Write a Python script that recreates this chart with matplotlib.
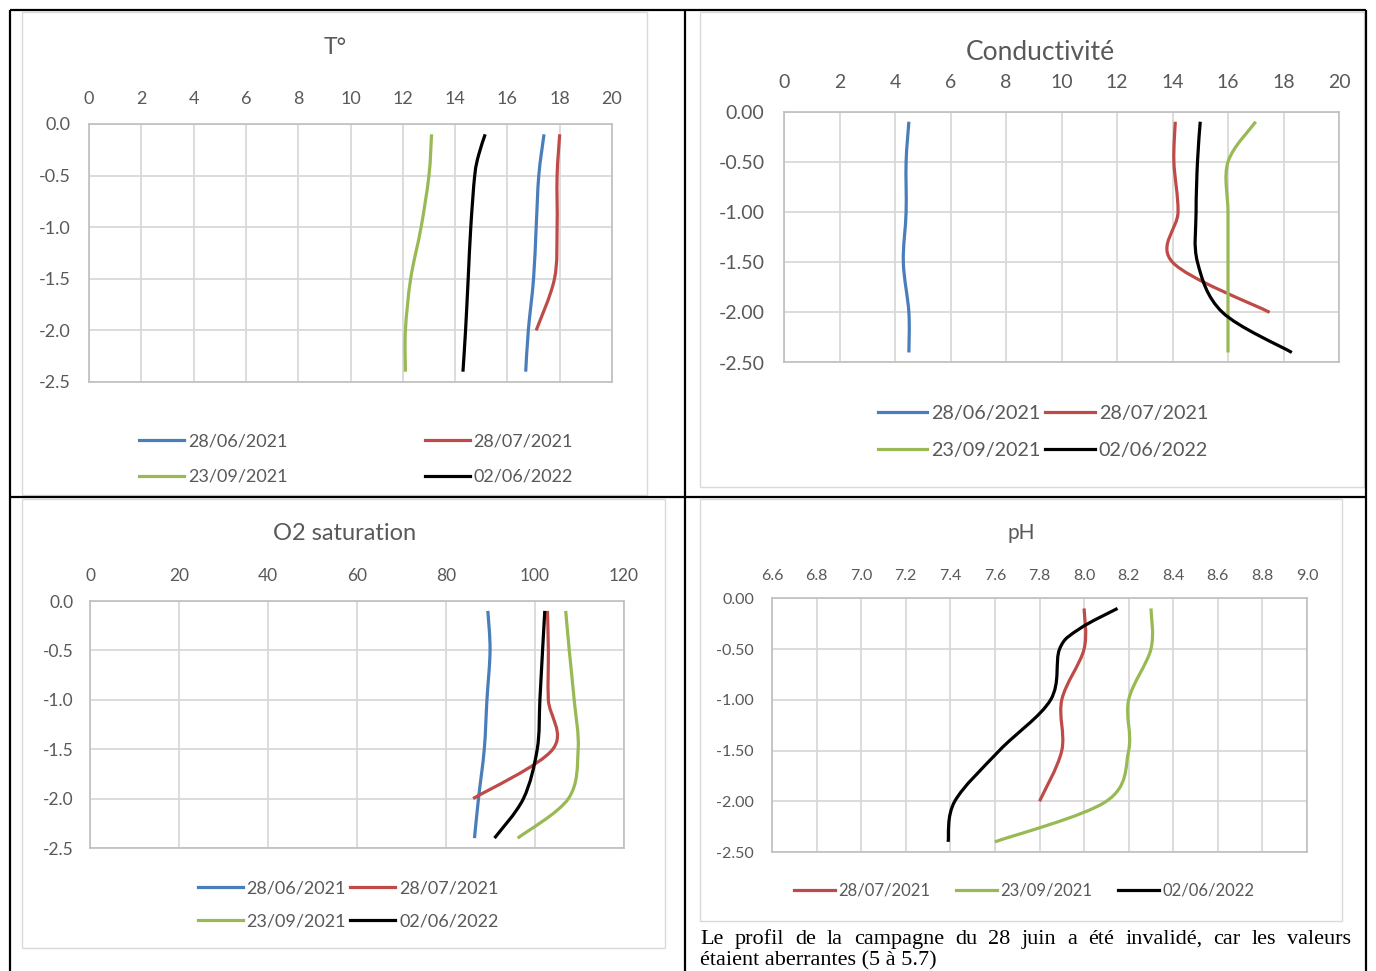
import numpy as np
import matplotlib
matplotlib.use("Agg")
import matplotlib.pyplot as plt
from matplotlib.path import Path
from matplotlib.patches import PathPatch, Rectangle
from matplotlib.lines import Line2D
from matplotlib.ticker import FormatStrFormatter

plt.rcParams['font.family'] = ['Lato', 'DejaVu Sans']

# ---- data ----
dates = ["28/06/2021", "28/07/2021", "23/09/2021", "02/06/2022"]
colors = ["#4a7ebb", "#be4b48", "#98b954", "#000000"]

depth_std = [-0.1, -0.5, -1.0, -1.5, -2.0, -2.4]
depth_short = [-0.1, -0.5, -1.0, -1.5, -2.0]
depth_fine = [-0.1, -0.3, -0.5, -1.0, -1.5, -2.0, -2.4]

# temperature
temp_blue = [17.4, 17.2, 17.1, 17.0, 16.8, 16.7]
temp_red = [18.0, 17.9, 17.9, 17.8, 17.1]
temp_green = [13.1, 13.0, 12.7, 12.3, 12.1, 12.1]
temp_black = [15.15, 14.9, 14.75, 14.6, 14.5, 14.4, 14.3]

# conductivity
cond_blue = [4.5, 4.4, 4.4, 4.3, 4.5, 4.5]
cond_red = [14.1, 14.05, 14.2, 14.0, 17.5]
cond_green = [17.0, 16.0, 16.0, 16.0, 16.0, 16.0]
cond_black = [15.0, 14.9, 14.85, 14.9, 15.8, 18.3]

# O2 saturation
o2_blue = [89.4, 89.9, 89.2, 88.6, 87.3, 86.4]
o2_red = [102.8, 103.0, 103.0, 104.0, 86.1]
o2_green = [106.9, 107.7, 108.8, 109.7, 107.5, 96.1]
o2_black = [102.2, 101.7, 101.1, 100.5, 97.4, 90.9]

# pH (28/06 invalidated)
ph_red = [8.0, 8.0, 7.9, 7.9, 7.8]
ph_green = [8.3, 8.3, 8.2, 8.2, 8.1, 7.6]
ph_black = [8.15, 7.98, 7.89, 7.85, 7.62, 7.42, 7.39]

depth_ticks = [-2.5, -2.0, -1.5, -1.0, -0.5, 0.0]
temp_ticks = [0, 2, 4, 6, 8, 10, 12, 14, 16, 18, 20]
o2_ticks = [0, 20, 40, 60, 80, 100, 120]
ph_ticks = [6.6, 6.8, 7.0, 7.2, 7.4, 7.6, 7.8, 8.0, 8.2, 8.4, 8.6, 8.8, 9.0]

note1 = "Le profil de la campagne du 28 juin a été invalidé, car les valeurs"
note2 = "étaient aberrantes (5 à 5.7)"

W, H = 1376, 971
fig = plt.figure(figsize=(W / 100, H / 100), dpi=100)
fig.patch.set_facecolor("white")

# pixel-space background axes for the table and chart frames
bg = fig.add_axes([0, 0, 1, 1])
bg.set_xlim(0, W)
bg.set_ylim(H, 0)
bg.axis("off")

for (x0, y0, x1, y1) in [(22, 12, 647, 495), (700, 12, 1364, 487),
                         (22, 499, 665, 948), (700, 499, 1342, 921)]:
    bg.add_patch(Rectangle((x0, y0), x1 - x0, y1 - y0, fill=False,
                           edgecolor="#d9d9d9", lw=1.0))
tl = dict(color="black", lw=1.6, solid_capstyle="butt")
bg.plot([10, 1366], [10, 10], **tl)
bg.plot([10, 1366], [497, 497], **tl)
bg.plot([10, 10], [10, 971], **tl)
bg.plot([1366, 1366], [10, 971], **tl)
bg.plot([685, 685], [10, 971], **tl)


def px_axes(x0, y0, x1, y1):
    return fig.add_axes([x0 / W, 1 - y1 / H, (x1 - x0) / W, (y1 - y0) / H])


def smooth(xs, ys):
    pts = np.column_stack([xs, ys]).astype(float)
    n = len(pts)
    verts = [pts[0]]
    codes = [Path.MOVETO]
    for i in range(n - 1):
        p0 = pts[i - 1] if i > 0 else pts[i]
        p1 = pts[i]
        p2 = pts[i + 1]
        p3 = pts[i + 2] if i + 2 < n else pts[i + 1]
        verts += [p1 + (p2 - p0) / 6, p2 - (p3 - p1) / 6, p2]
        codes += [Path.CURVE4] * 3
    return Path(verts, codes)


def setup(ax, xlim, xticks, xfmt, yfmt, fs, xpad, ypad):
    ax.set_xlim(xlim)
    ax.set_ylim(-2.5, 0)
    ax.set_xticks(xticks)
    ax.set_yticks(depth_ticks)
    ax.xaxis.tick_top()
    ax.xaxis.set_major_formatter(FormatStrFormatter(xfmt))
    ax.yaxis.set_major_formatter(FormatStrFormatter(yfmt))
    ax.tick_params(length=0, labelsize=fs, labelcolor="#595959")
    ax.tick_params(axis="x", pad=xpad)
    ax.tick_params(axis="y", pad=ypad)
    ax.grid(color="#d9d9d9", lw=1.3)
    ax.set_axisbelow(True)
    for s in ax.spines.values():
        s.set_color("#bfbfbf")
        s.set_linewidth(1.2)


def curve(ax, xs, ys, c):
    ax.add_patch(PathPatch(smooth(xs, ys), fill=False, edgecolor=c, lw=2.3,
                           joinstyle="round", capstyle="butt"))


def legend(ax, order, cx, cy, fs, ncol, hl, cs, ls):
    hs = [Line2D([], [], color=colors[i], lw=2.3) for i in order]
    lb = [dates[i] for i in order]
    lg = ax.legend(hs, lb, ncol=ncol, loc="center", bbox_to_anchor=(cx, cy),
                   bbox_transform=bg.transData, frameon=False, fontsize=fs,
                   handlelength=hl, handletextpad=0.2, columnspacing=cs,
                   labelspacing=ls, borderpad=0)
    for t in lg.get_texts():
        t.set_color("#595959")


# T°
ax1 = px_axes(89, 124, 612, 382)
setup(ax1, (0, 20), temp_ticks, "%d", "%.1f", 13, 12, 13)
curve(ax1, temp_blue, depth_std, colors[0])
curve(ax1, temp_red, depth_short, colors[1])
curve(ax1, temp_green, depth_std, colors[2])
curve(ax1, temp_black, depth_fine, colors[3])
legend(ax1, [0, 2, 1, 3], 356, 459, 13, 2, 2.5, 7.6, 1.1)
bg.text(335, 48, "T°", fontsize=16.5, color="#595959", ha="center", va="center")

# Conductivité
ax2 = px_axes(784, 111.7, 1339, 362.5)
setup(ax2, (0, 20), temp_ticks, "%d", "%.2f", 14, 15, 14)
curve(ax2, cond_blue, depth_std, colors[0])
curve(ax2, cond_red, depth_short, colors[1])
curve(ax2, cond_green, depth_std, colors[2])
curve(ax2, cond_black, depth_std, colors[3])
legend(ax2, [0, 2, 1, 3], 1043, 432, 14.2, 2, 2.5, 0.25, 1.05)
bg.text(1040, 53, "Conductivité", fontsize=19, color="#595959", ha="center", va="center")

# O2 saturation
ax3 = px_axes(90, 601, 624, 848)
setup(ax3, (0, 120), o2_ticks, "%d", "%.1f", 12.5, 12, 12)
curve(ax3, o2_blue, depth_std, colors[0])
curve(ax3, o2_red, depth_short, colors[1])
curve(ax3, o2_green, depth_std, colors[2])
curve(ax3, o2_black, depth_std, colors[3])
legend(ax3, [0, 2, 1, 3], 348, 905, 13, 2, 2.5, 0.25, 0.95)
bg.text(345, 534, "O2 saturation", fontsize=17, color="#595959", ha="center", va="center")

# pH
ax4 = px_axes(772, 598.3, 1307, 852)
setup(ax4, (6.6, 9.0), ph_ticks, "%.1f", "%.2f", 11.5, 11, 13)
curve(ax4, ph_red, depth_short, colors[1])
curve(ax4, ph_green, depth_std, colors[2])
curve(ax4, ph_black, depth_fine, colors[3])
legend(ax4, [1, 2, 3], 1024, 891, 12, 3, 2.5, 1.5, 0.5)
bg.text(1021, 533, "pH", fontsize=15, color="#595959", ha="center", va="center")

# justified note under the pH chart
renderer = fig.canvas.get_renderer()
words = note1.split()
widths = []
for w in words:
    t = bg.text(0, 0, w, fontsize=16, family="Liberation Serif")
    widths.append(t.get_window_extent(renderer).width)
    t.remove()
gap = (1351 - 700 - sum(widths)) / (len(words) - 1)
x = 700
for w, wd in zip(words, widths):
    bg.text(x, 944, w, fontsize=16, family="Liberation Serif", va="baseline", ha="left")
    x += wd + gap
bg.text(700, 965, note2, fontsize=16, family="Liberation Serif", va="baseline", ha="left")

fig.savefig("out.png", dpi=100)
